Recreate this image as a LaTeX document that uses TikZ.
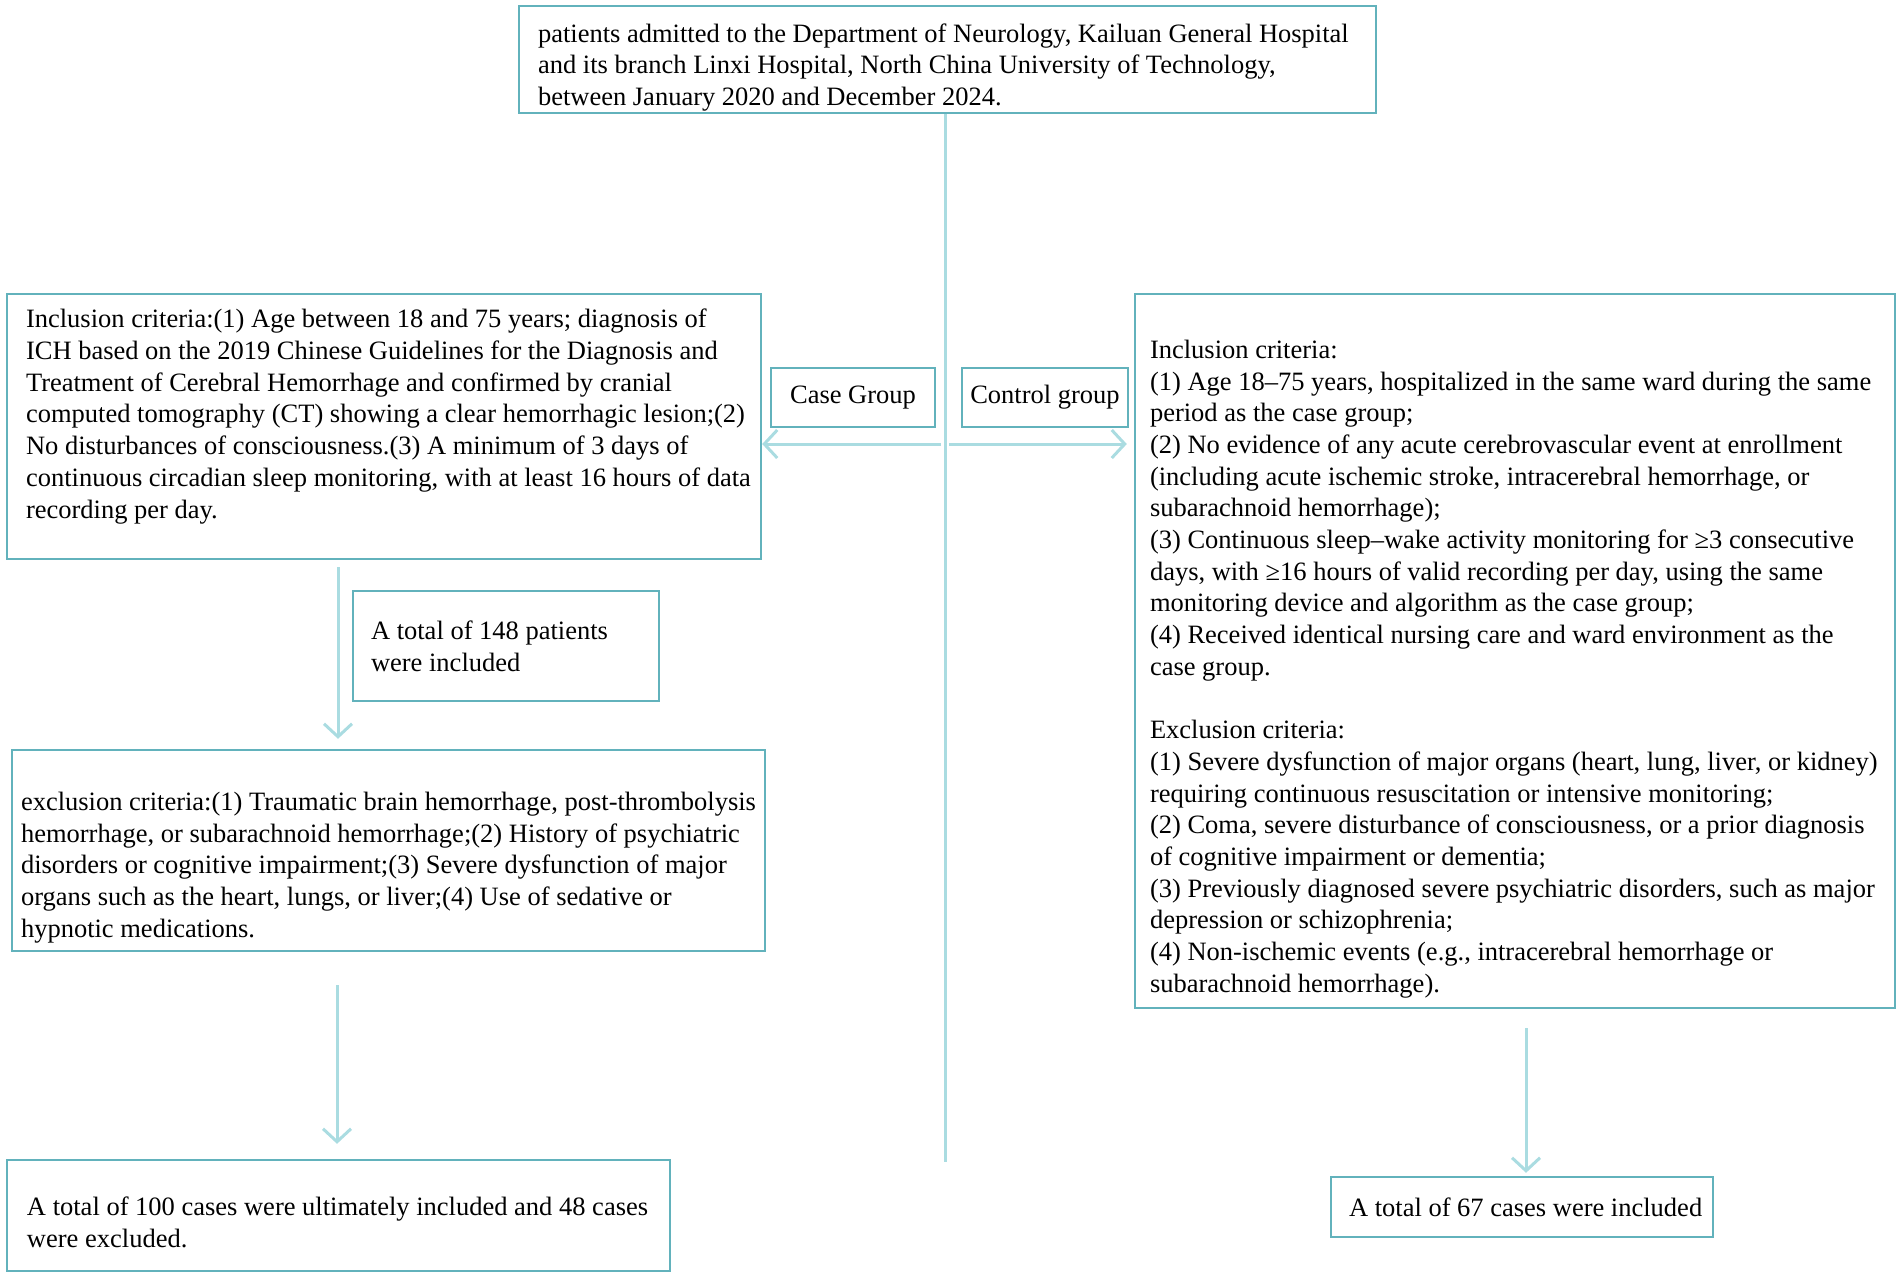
\documentclass[tikz,border=0pt]{standalone}
\usepackage{fontspec}
\setmainfont{Liberation Serif}
\usetikzlibrary{arrows.meta}
\definecolor{boxc}{RGB}{98,178,188}
\definecolor{arrc}{RGB}{170,220,225}

\begin{document}
\begin{tikzpicture}[x=1pt, y=-1pt,
  box/.style={draw=boxc, line width=2.4pt, inner sep=0pt},
  txt/.style={anchor=west, align=left, inner sep=0pt, font=\fontsize{26.5}{31.7}\selectfont},
  link/.style={draw=arrc, line width=3pt},
  flow/.style={link, -{Straight Barb[length=13pt, width=28pt]}}]
  \useasboundingbox (0,0) rectangle (1902,1280);

  % source population
  \node[box, minimum width=857pt, minimum height=107pt] (top) at (947.5,59.5) {};
  \node[txt] (top-t) at ([xshift=20pt, yshift=-8pt]top.west) {patients admitted to the Department of Neurology, Kailuan General Hospital\\
    and its branch Linxi Hospital, North China University of Technology,\\
    between January 2020 and December 2024.};

  % case group side
  \node[box, minimum width=754pt, minimum height=265pt] (inc) at (384,426.5) {};
  \node[txt] (inc-t) at ([xshift=20pt, yshift=10pt]inc.west) {Inclusion criteria:(1) Age between 18 and 75 years; diagnosis of\\
    ICH based on the 2019 Chinese Guidelines for the Diagnosis and\\
    Treatment of Cerebral Hemorrhage and confirmed by cranial\\
    computed tomography (CT) showing a clear hemorrhagic lesion;(2)\\
    No disturbances of consciousness.(3) A minimum of 3 days of\\
    continuous circadian sleep monitoring, with at least 16 hours of data\\
    recording per day.};

  \node[box, minimum width=306pt, minimum height=110pt] (n148) at (506,646) {};
  \node[txt] (n148-t) at ([xshift=19pt]n148.west) {A total of 148 patients\\were included};

  \node[box, minimum width=753pt, minimum height=201pt] (exc) at (388.5,850.5) {};
  \node[txt] (exc-t) at ([xshift=10pt, yshift=-17pt]exc.west) {exclusion criteria:(1) Traumatic brain hemorrhage, post-thrombolysis\\
    hemorrhage, or subarachnoid hemorrhage;(2) History of psychiatric\\
    disorders or cognitive impairment;(3) Severe dysfunction of major\\
    organs such as the heart, lungs, or liver;(4) Use of sedative or\\
    hypnotic medications.};

  \node[box, minimum width=663pt, minimum height=111pt] (fin) at (338.5,1215.5) {};
  \node[txt] (fin-t) at ([xshift=21pt, yshift=-7pt]fin.west) {A total of 100 cases were ultimately included and 48 cases\\were excluded.};

  % group labels
  \node[box, minimum width=164pt, minimum height=59pt, font=\fontsize{26.5}{31.7}\selectfont] (case) at (853,397.5) {Case Group};
  \node[box, minimum width=166pt, minimum height=59pt, font=\fontsize{26.5}{31.7}\selectfont] (ctrl) at (1045,397.5) {Control group};

  % control group side
  \node[box, minimum width=760pt, minimum height=714pt] (crit) at (1515,651) {};
  \node[txt] (crit-t) at ([xshift=16pt, yshift=-18pt]crit.west) {Inclusion criteria:\\
    (1) Age 18–75 years, hospitalized in the same ward during the same\\
    period as the case group;\\
    (2) No evidence of any acute cerebrovascular event at enrollment\\
    (including acute ischemic stroke, intracerebral hemorrhage, or\\
    subarachnoid hemorrhage);\\
    (3) Continuous sleep–wake activity monitoring for ≥3 consecutive\\
    days, with ≥16 hours of valid recording per day, using the same\\
    monitoring device and algorithm as the case group;\\
    (4) Received identical nursing care and ward environment as the\\
    case group.\\[31.7pt]
    Exclusion criteria:\\
    (1) Severe dysfunction of major organs (heart, lung, liver, or kidney)\\
    requiring continuous resuscitation or intensive monitoring;\\
    (2) Coma, severe disturbance of consciousness, or a prior diagnosis\\
    of cognitive impairment or dementia;\\
    (3) Previously diagnosed severe psychiatric disorders, such as major\\
    depression or schizophrenia;\\
    (4) Non-ischemic events (e.g., intracerebral hemorrhage or\\
    subarachnoid hemorrhage).};

  \node[box, minimum width=382pt, minimum height=60pt] (n67) at (1522,1207) {};
  \node[txt] (n67-t) at ([xshift=19pt]n67.west) {A total of 67 cases were included};

  \coordinate (mid) at (945,444);
  \coordinate (bot) at (945,1162);
  \coordinate (a1) at (338,0);
  \coordinate (a2) at (337,0);
  \coordinate (a3) at (1526,0);

  % main trunk
  \draw[link] (top.south -| bot) -- (bot);

  % split to both groups
  \draw[flow, shorten <=4pt] (mid) -- (inc.east |- mid);
  \draw[flow, shorten <=4pt, shorten >=7pt] (mid) -- (crit.west |- mid);

  % case group flow
  \draw[flow, shorten <=7pt, shorten >=10pt] (inc.south -| a1) -- (exc.north -| a1);
  \draw[flow, shorten <=33pt, shorten >=15pt] (exc.south -| a2) -- (fin.north -| a2);

  % control group flow
  \draw[flow, shorten <=19pt, shorten >=3pt] (crit.south -| a3) -- (n67.north -| a3);
\end{tikzpicture}
\end{document}
